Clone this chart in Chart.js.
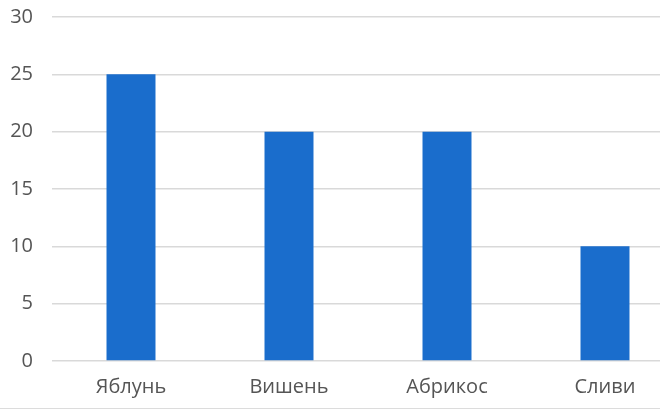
<!DOCTYPE html>
<html>
<head>
<meta charset="utf-8">
<script src="https://cdn.jsdelivr.net/npm/chart.js@4/dist/chart.umd.min.js"></script>
<style>
  html, body { margin: 0; padding: 0; background: #fff; overflow: hidden; }
  #wrap { width: 660px; height: 408px; overflow: hidden; border-bottom: 1px solid #dcdcdc; }
  #box { width: 684px; height: 408px; }
</style>
</head>
<body>
<div id="wrap"><div id="box"><canvas id="fruitChart"></canvas></div></div>
<script>
// categories and values
const categories = ["Яблунь", "Вишень", "Абрикос", "Сливи"];
const values = [25, 20, 20, 10];
const yTicks = [0, 5, 10, 15, 20, 25, 30];

const textColor = '#555555';
const gridColor = '#d9d9d9';

const data = {
    labels: categories,
    datasets: [{
        data: values,
        backgroundColor: '#1a6dcc',
        barPercentage: 0.31,
        categoryPercentage: 1
    }]
};

const config = {
    type: 'bar',
    data: data,
    options: {
        responsive: true,
        maintainAspectRatio: false,
        animation: false,
        layout: { padding: { top: 17, right: 0, left: 0, bottom: 0 } },
        plugins: { legend: { display: false }, tooltip: { enabled: false } },
        scales: {
            x: {
                grid: { display: false, drawTicks: false },
                border: { display: false },
                ticks: { color: textColor, font: { family: 'Open Sans', size: 20 }, padding: 14 },
                afterFit: s => { s.height = 47; s.paddingLeft = 0; s.paddingRight = 0; }
            },
            y: {
                min: 0,
                max: 30,
                afterBuildTicks: s => { s.ticks = yTicks.map(v => ({ value: v })); },
                grid: { color: gridColor, lineWidth: 1.5, drawTicks: false },
                border: { display: false },
                ticks: { color: textColor, font: { family: 'Open Sans', size: 20 }, padding: 19 },
                afterFit: s => { s.width = 52; s.paddingTop = 0; s.paddingBottom = 0; }
            }
        }
    }
};

const ctx = document.getElementById('fruitChart').getContext('2d');
const fruitChart = new Chart(ctx, config);
</script>
</body>
</html>
